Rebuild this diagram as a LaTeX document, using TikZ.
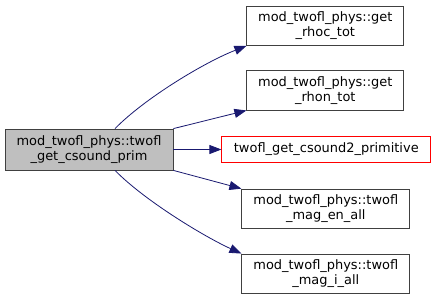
\documentclass[tikz,border=0pt]{standalone}
\usepackage{fontspec}
\setmainfont{DejaVu Sans}
\usetikzlibrary{arrows.meta}
\definecolor{edgeblue}{HTML}{191970}
\definecolor{boxgray}{HTML}{404040}
\definecolor{mainfill}{HTML}{BFBFBF}

\begin{document}
\begin{tikzpicture}[
    x=1bp, y=-1bp,
    >={Triangle[length=12bp, width=9bp]},
    font=\fontsize{13}{15}\selectfont,
    fnbox/.style={draw=boxgray, line width=0.8bp, fill=white, align=center,
                  inner sep=0pt, minimum height=39.5bp, minimum width=157bp},
    mainbox/.style={fnbox, fill=mainfill, minimum width=168bp, minimum height=41bp},
    wide/.style={fnbox, minimum width=168bp},
    redbox/.style={fnbox, draw=red, minimum width=209bp, minimum height=25.6bp},
    callarrow/.style={->, draw=edgeblue, line width=0.8bp},
]

\useasboundingbox (0,0) rectangle (436,300);

% ── caller ──
\node[mainbox] (main) at (89,149.5) {mod\_twofl\_phys::twofl\\\_get\_csound\_prim};

% ── callees ──
\node[fnbox] (rhoc) at (325.3,25.8) {mod\_twofl\_phys::get\\\_rhoc\_tot};
\node[fnbox] (rhon) at (325.3,90.3) {mod\_twofl\_phys::get\\\_rhon\_tot};
\node[redbox] (csound) at (326.3,149.5) {twofl\_get\_csound2\_primitive};
\node[wide] (magen) at (325.8,208.8) {mod\_twofl\_phys::twofl\\\_mag\_en\_all};
\node[wide] (magi) at (325.8,273.7) {mod\_twofl\_phys::twofl\\\_mag\_i\_all};

% ── calls ──
\draw[callarrow] ([xshift=26bp]main.north) .. controls (145,98) and (205,62) .. (rhoc.south west);
\draw[callarrow] (main.north east) -- (rhon.south west);
\draw[callarrow] (main.east) -- (csound.west);
\draw[callarrow] (main.south east) -- (magen.north west);
\draw[callarrow] ([xshift=26bp]main.south) .. controls (145,201) and (205,237) .. (magi.north west);

\end{tikzpicture}
\end{document}
